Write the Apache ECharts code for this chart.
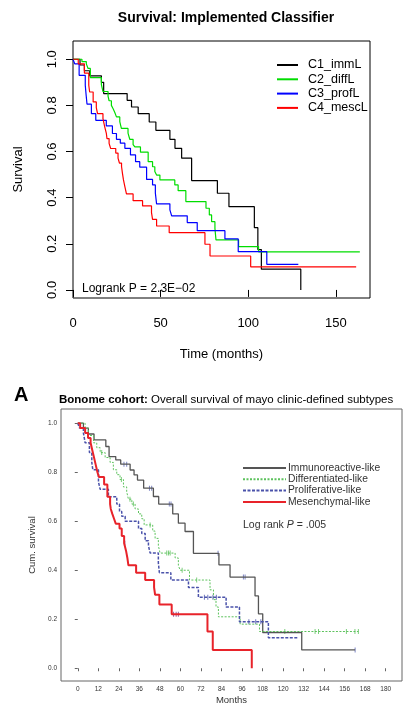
<!DOCTYPE html>
<html>
<head>
<meta charset="utf-8">
<script src="https://cdn.jsdelivr.net/npm/echarts@6/dist/echarts.min.js"></script>
<style>
html,body{margin:0;padding:0;background:#fff;}
#chart{width:406px;height:705px;}
</style>
</head>
<body>
<div id="chart"></div>
<script>
// top panel: survival curves [month, survival]
const topNames = ['C1_immL', 'C2_diffL', 'C3_profL', 'C4_mescL'];
const topImm = [[0,1],[4,0.975],[6.5,0.95],[9.5,0.928],[16.2,0.9],[17.5,0.851],[30.9,0.822],[33.4,0.793],[37.2,0.764],[43.5,0.728],[47.3,0.692],[55.3,0.653],[58.2,0.614],[62,0.571],[67.7,0.474],[82.4,0.419],[89,0.361],[103.5,0.27],[105.5,0.175],[107.5,0.09],[130,0]];
const topDiff = [[0,1],[5.1,0.99],[7.6,0.98],[8.6,0.96],[9.9,0.92],[16.2,0.89],[17.1,0.86],[20,0.84],[20.6,0.82],[21.9,0.8],[22.9,0.785],[23.8,0.77],[24.8,0.75],[26.7,0.73],[27.6,0.7],[31.4,0.68],[32.4,0.653],[34.3,0.63],[35.3,0.62],[38.5,0.597],[42.9,0.556],[45.4,0.534],[46.7,0.513],[47.7,0.498],[49.6,0.477],[58.1,0.455],[60,0.43],[64.4,0.383],[75.9,0.354],[77.8,0.325],[79.1,0.296],[81,0.267],[81.6,0.217],[94.5,0.188],[105.9,0.165],[163.7,0.165]];
const topProf = [[0,1],[1,0.98],[3.5,0.93],[7,0.887],[7.5,0.844],[8,0.805],[10.5,0.764],[13,0.735],[19,0.711],[22.5,0.678],[24.8,0.653],[27,0.636],[29.6,0.614],[32.8,0.585],[35.7,0.556],[38.1,0.532],[42,0.479],[45.4,0.455],[47,0.42],[47.7,0.373],[55.3,0.347],[56.3,0.321],[65.2,0.292],[70.9,0.257],[86.7,0.221],[94.3,0.166],[110.6,0.111],[128.6,0.111]];
const topMesc = [[0,1],[3,0.98],[6.5,0.94],[9,0.887],[9.5,0.858],[11.5,0.815],[13.3,0.79],[14,0.764],[17.1,0.743],[18.1,0.707],[19,0.68],[19.4,0.656],[20.6,0.635],[21.5,0.613],[24.4,0.593],[25.7,0.571],[26.5,0.55],[27.7,0.535],[28.2,0.506],[28.8,0.477],[29.6,0.448],[30.5,0.416],[34.3,0.387],[39.7,0.364],[44.8,0.335],[45.4,0.306],[47.7,0.277],[54.9,0.248],[75.3,0.198],[78.2,0.147],[101.4,0.1],[161.6,0.1]];
const topXTicks = [0, 50, 100, 150];
const topYTicks = [0, 0.2, 0.4, 0.6, 0.8, 1.0];

// bottom panel (Bonome cohort)
const botNames = ['Immunoreactive-like', 'Differentiated-like', 'Proliferative-like', 'Mesenchymal-like'];
const botImm = [[0,1],[3.3,0.98],[6.2,0.956],[9.5,0.932],[16.4,0.905],[18.3,0.864],[22.2,0.85],[25.1,0.833],[30.6,0.809],[32.9,0.789],[34.9,0.768],[38.5,0.735],[44.2,0.701],[47.3,0.67],[55.5,0.63],[58.8,0.592],[62.7,0.558],[67.6,0.469],[82.5,0.422],[89,0.372],[103.6,0.295],[105.6,0.222],[108.1,0.146],[130.9,0.075],[162.1,0.075]];
const botDiff = [[0,1],[4.3,0.98],[6.2,0.95],[9.2,0.92],[11.1,0.9],[13.1,0.88],[16,0.86],[18.9,0.84],[20.8,0.81],[22.8,0.79],[24.7,0.77],[26.7,0.74],[28.6,0.72],[29.6,0.69],[31.6,0.67],[33.5,0.65],[35.5,0.63],[37.4,0.61],[38.8,0.585],[43.8,0.56],[45.2,0.53],[47.1,0.5],[48.1,0.47],[56.9,0.45],[58.8,0.42],[59.8,0.4],[65.3,0.36],[77.3,0.32],[79.3,0.28],[80.8,0.25],[82.2,0.21],[94.9,0.18],[106.2,0.15],[164,0.15]];
const botProf = [[0,1],[1,0.98],[3.3,0.96],[4.3,0.92],[6.8,0.88],[8.2,0.84],[8.8,0.81],[12.1,0.76],[13.1,0.73],[17.9,0.7],[22.8,0.67],[24.4,0.64],[25.7,0.62],[27.7,0.6],[35.5,0.57],[37.4,0.55],[39.4,0.52],[41.3,0.5],[42.3,0.47],[47.1,0.43],[47.7,0.39],[54.4,0.36],[64.7,0.33],[70.5,0.29],[86.7,0.25],[94.5,0.19],[111.4,0.125],[128.6,0.125]];
const botMesc = [[0,1],[1.4,0.98],[4.3,0.96],[6,0.94],[7.5,0.92],[8.5,0.89],[9.5,0.86],[10.5,0.83],[11.5,0.8],[12.4,0.78],[15.4,0.75],[17.3,0.7],[18.9,0.67],[19.3,0.65],[20.2,0.63],[21.2,0.61],[22.2,0.59],[24.4,0.57],[25.7,0.54],[27.1,0.51],[28.2,0.48],[29,0.45],[29.6,0.42],[34.1,0.39],[39.4,0.36],[44.6,0.33],[45.2,0.3],[47.7,0.26],[54.9,0.22],[75.8,0.15],[78.9,0.074],[101.7,0]];
// censor marks
const botImmCens = [[27,0.833],[28.6,0.833],[41.9,0.735],[43.2,0.735],[53.5,0.67],[54.5,0.67],[82,0.469],[96.8,0.372],[97.8,0.372],[162.1,0.075]];
const botDiffCens = [[14,0.88],[25.5,0.77],[30.5,0.69],[32.5,0.67],[42.3,0.585],[52,0.47],[53,0.47],[54,0.47],[61,0.4],[69.5,0.36],[121,0.15],[138.7,0.15],[140.7,0.15],[157,0.15],[162,0.15],[164,0.15]];
const botProfCens = [[74,0.29],[76,0.29],[79,0.29],[81,0.29],[100,0.19],[104,0.19],[107,0.19]];
const botMescCens = [[27.5,0.51],[44.8,0.33],[56,0.22],[57.5,0.22],[58.8,0.22]];
const botXTicks = [0,12,24,36,48,60,72,84,96,108,120,132,144,156,168,180];
const botYTicks = [0, 0.2, 0.4, 0.6, 0.8, 1.0];

const FONT = '"Liberation Sans", Arial, sans-serif';
const chart = echarts.init(document.getElementById('chart'));

function km(name, data, xi, color, width, type) {
  return {
    name: name, type: 'line', step: 'end', data: data,
    xAxisIndex: xi, yAxisIndex: xi, symbol: 'none', silent: true,
    lineStyle: {color: color, width: width, type: type || 'solid'},
    itemStyle: {color: color}
  };
}
function cens(data, color) {
  return {
    name: 'cens', type: 'scatter', data: data, xAxisIndex: 1, yAxisIndex: 1,
    symbol: 'rect', symbolSize: [1, 5], silent: true,
    itemStyle: {color: color}
  };
}
// legend: line only, no marker
const noMarker = {color: 'transparent', borderColor: 'transparent', borderWidth: 0};

chart.setOption({
  animation: false,
  textStyle: {fontFamily: FONT},
  grid: [
    {left: 73, right: 36, top: 41, height: 257, show: true, borderColor: '#000', borderWidth: 1, outerBoundsMode: 'none'},
    {left: 61, right: 4, top: 409, height: 272, show: true, borderColor: '#666', borderWidth: 1, outerBoundsMode: 'none'}
  ],
  xAxis: [
    {type: 'value', gridIndex: 0, min: 0, max: 169.5,
     axisLine: {show: false}, splitLine: {show: false},
     axisTick: {show: true, length: 7, customValues: topXTicks, lineStyle: {color: '#000'}},
     axisLabel: {customValues: topXTicks, fontSize: 13, color: '#000', margin: 19, fontFamily: FONT},
     name: 'Time (months)', nameLocation: 'middle', nameGap: 50,
     nameTextStyle: {fontSize: 13, color: '#000', fontFamily: FONT}},
    {type: 'value', gridIndex: 1, min: -9.8, max: 189.5,
     axisLine: {show: false}, splitLine: {show: false},
     axisTick: {show: true, length: 3, customValues: botXTicks, lineStyle: {color: '#666'}},
     axisLabel: {customValues: botXTicks, fontSize: 6.5, color: '#333', margin: 5, fontFamily: FONT},
     name: 'Months', nameLocation: 'middle', nameGap: 14,
     nameTextStyle: {fontSize: 9.5, color: '#333', fontFamily: FONT}}
  ],
  yAxis: [
    {type: 'value', gridIndex: 0, min: -0.035, max: 1.079,
     axisLine: {show: false}, splitLine: {show: false},
     axisTick: {show: true, length: 7, customValues: topYTicks, lineStyle: {color: '#000'}},
     axisLabel: {customValues: topYTicks, rotate: 90, fontSize: 13, color: '#000', margin: 14, fontFamily: FONT,
       formatter: v => v.toFixed(1)},
     name: 'Survival', nameLocation: 'middle', nameGap: 48,
     nameTextStyle: {fontSize: 13, color: '#000', fontFamily: FONT}},
    {type: 'value', gridIndex: 1, min: -0.052, max: 1.058,
     axisLine: {show: false}, splitLine: {show: false},
     axisTick: {show: true, length: 3, customValues: botYTicks, lineStyle: {color: '#666'}},
     axisLabel: {customValues: botYTicks, fontSize: 6.5, color: '#333', margin: 4, fontFamily: FONT,
       formatter: v => v.toFixed(1)},
     name: 'Cum. survival', nameLocation: 'middle', nameGap: 21,
     nameTextStyle: {fontSize: 9.5, color: '#333', fontFamily: FONT}}
  ],
  legend: [
    {data: topNames, orient: 'vertical', left: 276, top: 58.5, padding: 0, itemWidth: 21, itemHeight: 12, itemGap: 1.3,
     itemStyle: noMarker,
     textStyle: {fontSize: 12.5, color: '#000', fontFamily: FONT, padding: [0, 0, 0, 5]}},
    {data: botNames, orient: 'vertical', left: 242, top: 463, padding: 0, itemWidth: 43, itemHeight: 10, itemGap: 1.3,
     itemStyle: noMarker,
     textStyle: {fontSize: 10.3, color: '#333', fontFamily: FONT, padding: [0, 0, 0, -3]}}
  ],
  graphic: [
    {type: 'text', x: 226, y: 18, style: {text: 'Survival: Implemented Classifier', font: 'bold 14px ' + FONT, fill: '#000', align: 'center', verticalAlign: 'middle'}},
    {type: 'text', x: 82, y: 289, style: {text: 'Logrank P = 2.3E\u221202', font: '12px ' + FONT, fill: '#000', align: 'left', verticalAlign: 'middle'}},
    {type: 'text', x: 14, y: 395, style: {text: 'A', font: 'bold 20px ' + FONT, fill: '#000', align: 'left', verticalAlign: 'middle'}},
    {type: 'text', x: 59, y: 400, style: {text: '{b|Bonome cohort:} Overall survival of mayo clinic-defined subtypes', font: '11.5px ' + FONT, fill: '#000', align: 'left', verticalAlign: 'middle',
      rich: {b: {fontWeight: 'bold', fontSize: 11.5, fontFamily: FONT, fill: '#000'}}}},
    {type: 'text', x: 243, y: 525, style: {text: 'Log rank {i|P} = .005', font: '10.5px ' + FONT, fill: '#333', align: 'left', verticalAlign: 'middle',
      rich: {i: {fontStyle: 'italic', fontSize: 10.5, fontFamily: FONT, fill: '#333'}}}}
  ],
  series: [
    km(topNames[0], topImm, 0, '#000000', 1.2),
    km(topNames[1], topDiff, 0, '#00dd00', 1.2),
    km(topNames[2], topProf, 0, '#0000ff', 1.2),
    km(topNames[3], topMesc, 0, '#ff0000', 1.2),
    km(botNames[0], botImm, 1, '#555555', 1.3),
    km(botNames[1], botDiff, 1, '#5cc25c', 1, [2, 1.5]),
    km(botNames[2], botProf, 1, '#4a52aa', 1.5, [3, 1.5]),
    km(botNames[3], botMesc, 1, '#e8232a', 2),
    cens(botImmCens, '#5a64b4'),
    cens(botDiffCens, '#5cc25c'),
    cens(botProfCens, '#4a52aa'),
    cens(botMescCens, '#7a3a8a')
  ]
});
</script>
</body>
</html>
